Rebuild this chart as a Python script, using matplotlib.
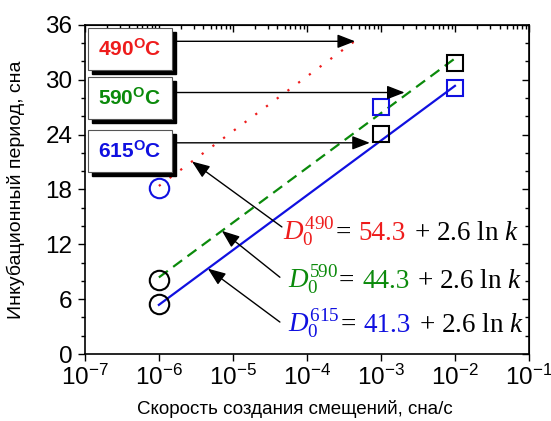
import numpy as np
import matplotlib.pyplot as plt
from matplotlib.patches import Rectangle
from matplotlib.transforms import offset_copy
from matplotlib.ticker import MultipleLocator, NullFormatter

plt.rcParams['font.family'] = 'Liberation Sans'
plt.rcParams['mathtext.fontset'] = 'custom'
plt.rcParams['mathtext.rm'] = 'Liberation Serif'
plt.rcParams['mathtext.it'] = 'Liberation Serif:italic'
plt.rcParams['mathtext.sf'] = 'Liberation Sans:bold'

# Temperatures, colours and fitted lines D0 = A + 2.6 ln k
temps = ['490', '590', '615']
colors = ['#ee1c1c', '#0b8a0b', '#1010e0']
styles = [(0, (1, 5)), (0, (5, 3)), '-']
intercepts = [54.3, 44.3, 41.3]
slope = 2.6
k_start = [1e-6, 1e-6, 1e-6]
k_end = [4.5e-4, 1e-2, 1e-2]

# Experimental points
circ_k = [1e-6, 1e-6, 1e-6]
circ_D = [18.2, 8.1, 5.5]
circ_c = ['#1010e0', 'black', 'black']
sq_k = [1e-3, 1e-3, 1e-2, 1e-2]
sq_D = [27.0, 24.1, 31.8, 29.1]
sq_c = ['#1010e0', 'black', 'black', '#1010e0']

# Horizontal arrows from the temperature boxes
harrow_y = [34.2, 28.6, 23.1]
harrow_k = [10**-3.35, 10**-2.68, 10**-3.15]

# Arrows from the equations to the lines
eq_tip_k = [2.8e-6, 10**-5.149, 10**-5.338]
eq_tail = [(10**-4.338, 13.9), (10**-4.365, 8.4), (10**-4.365, 3.5)]
eq_pos = [(10**-4.324, 12.47), (10**-4.257, 7.2), (10**-4.257, 2.41)]

fig = plt.figure(figsize=(5.51, 4.21), dpi=100)
ax = fig.add_axes([0.154, 0.159, 0.806, 0.782])
ax.set_xscale('log')
ax.set_xlim(1e-7, 1e-1)
ax.set_ylim(0, 36)

def fit(A, k):
    return A + slope * np.log(k)

for A, c, ls, k0, k1 in zip(intercepts, colors, styles, k_start, k_end):
    kk = np.array([k0, k1])
    ax.plot(kk, fit(A, kk), color=c, ls=ls, lw=1.6, zorder=3)

for k, d, c in zip(circ_k, circ_D, circ_c):
    ax.plot(k, d, 'o', ms=14, mfc='none', mec=c, mew=1.5, zorder=4)
for k, d, c in zip(sq_k, sq_D, sq_c):
    ax.plot(k, d, 's', ms=11.5, mfc='none', mec=c, mew=1.5, zorder=4)

# Temperature boxes with drop shadow
box_x0, box_x1 = 0.007, 0.196
box_tops = [0.991, 0.842, 0.681]
box_h = 0.128
sx, sy = 0.009, 0.012
for t, c, top in zip(temps, colors, box_tops):
    ax.add_patch(Rectangle((box_x0 + sx, top - box_h - sy), box_x1 - box_x0, box_h,
                           transform=ax.transAxes, fc='black', ec='black', zorder=5))
    ax.add_patch(Rectangle((box_x0, top - box_h), box_x1 - box_x0, box_h,
                           transform=ax.transAxes, fc='white', ec='#555555', lw=0.8, zorder=6))
    ax.text((box_x0 + box_x1) / 2, top - box_h / 2, r'$\mathsf{' + t + '^{O}C}$',
            transform=ax.transAxes, ha='center', va='center', color=c, fontsize=15, zorder=7)

arrow_style = dict(arrowstyle='-|>,head_length=0.9,head_width=0.35', mutation_scale=12,
                   color='black', lw=1, shrinkA=0, shrinkB=0)
for y, k in zip(harrow_y, harrow_k):
    ax.annotate('', xy=(k, y), xycoords='data', xytext=(box_x1, y),
                textcoords=('axes fraction', 'data'), arrowprops=arrow_style, zorder=4)

for A, k, tail in zip(intercepts, eq_tip_k, eq_tail):
    ax.annotate('', xy=(k, fit(A, k)), xytext=tail, arrowprops=arrow_style, zorder=4)

# Equations, drawn piece by piece so each part keeps its colour
renderer = fig.canvas.get_renderer()
sub_sup = [r'$D_{\mathit{0}}^{\mathit{490}}$', r'$D_0^{590}$', r'$D_0^{615}$']
for lab, A, c, (x, y) in zip(sub_sup, intercepts, colors, eq_pos):
    parts = [(lab, c, 0), ('=', 'black', 1), ('%.1f' % A, c, 8), (r'+ 2.6 ln $k$', 'black', 8)]
    dx = 0
    for s, col, gap in parts:
        dx += gap
        t = ax.text(x, y, s, color=col, fontsize=19.5, family='Liberation Serif', va='baseline',
                    transform=offset_copy(ax.transData, fig=fig, x=dx, y=0, units='dots'),
                    zorder=4)
        dx += t.get_window_extent(renderer).width

# Ticks
ax.set_yticks(np.arange(0, 37, 6))
ax.yaxis.set_minor_locator(MultipleLocator(2))
ax.set_xticks([10.0**p for p in range(-7, 0)])
ax.set_xticklabels([r'$\mathregular{10^{%d}}$' % p for p in range(-7, 0)])
ax.tick_params(axis='y', which='both', direction='out', labelsize=17.5, pad=4)
ax.tick_params(axis='x', which='major', direction='out', labelsize=17.5, pad=3)
ax.tick_params(axis='x', which='minor', direction='in')
ax.tick_params(which='major', length=5, width=1)
ax.tick_params(which='minor', length=3, width=1)
for sp in ax.spines.values():
    sp.set_linewidth(1.2)

secx = ax.secondary_xaxis('top')
secx.set_xticks([10.0**p for p in range(-7, 0)])
secx.tick_params(which='both', direction='in', labeltop=False, width=1)
secx.tick_params(which='major', length=5)
secx.tick_params(which='minor', length=3)
secx.xaxis.set_minor_formatter(NullFormatter())
secy = ax.secondary_yaxis('right')
secy.set_yticks(np.arange(0, 37, 6))
secy.yaxis.set_minor_locator(MultipleLocator(2))
secy.tick_params(which='both', direction='in', labelright=False, width=1)
secy.tick_params(which='major', length=5)
secy.tick_params(which='minor', length=3)

ax.set_xlabel('Скорость создания смещений, сна/с', fontsize=13.5)
ax.xaxis.set_label_coords(0.473, -0.14)
ax.set_ylabel('Инкубационный период, сна', fontsize=14)
ax.yaxis.set_label_coords(-0.135, 0.5)

fig.savefig('out.png', dpi=100)
